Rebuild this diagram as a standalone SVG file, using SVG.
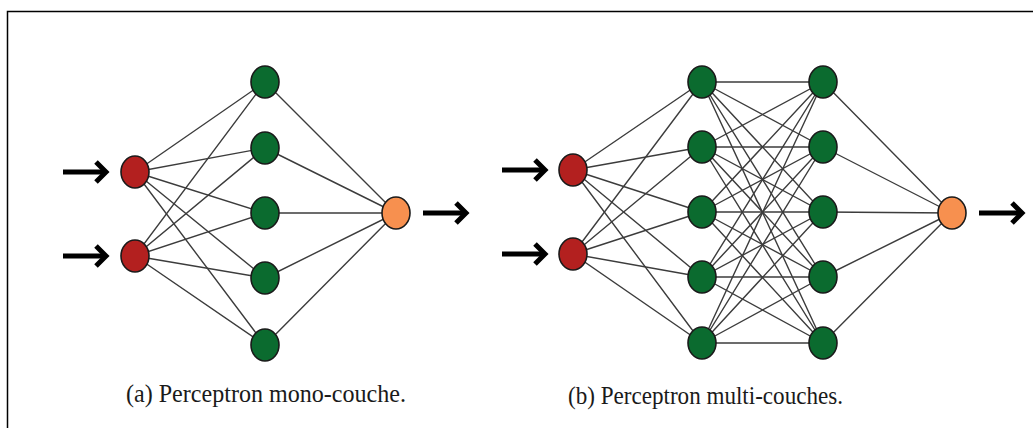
<svg xmlns="http://www.w3.org/2000/svg" xmlns:xlink="http://www.w3.org/1999/xlink" width="1033" height="428" viewBox="0 0 1033 428">
  <style>
    .edge { stroke: #3c3c3c; stroke-width: 1.4; fill: none; }
    .node { stroke: #1a1a1a; stroke-width: 1.6; }
    .in { fill: #b3201f; }
    .hid { fill: #0b6b2f; }
    .out { fill: #f7904f; }
    .arrow { stroke: #000; stroke-width: 5; fill: none; stroke-linecap: butt; stroke-linejoin: miter; }
    .cap { font-family: "Liberation Serif", "DejaVu Serif", serif; font-size: 25px; fill: #1a1a1a; }
  </style>
  <defs>
    <g id="arr">
      <path class="arrow" d="M0,0 H41"/>
      <path class="arrow" d="M33,-10 L43,0 L33,10"/>
    </g>
  </defs>

  <rect width="1033" height="428" fill="#fff"/>
  <!-- frame -->
  <path d="M7.5,428 V11.5 H1033" stroke="#000" stroke-width="1.5" fill="none"/>

  <!-- connectors -->
  <g id="connectors">
    <!-- (a) inputs to hidden, hidden to output -->
    <g id="edges-a">
      <path class="edge" d="M135,172 L265,82 M135,172 L265,148 M135,172 L265,213 M135,172 L265,278 M135,172 L265,345"/>
      <path class="edge" d="M135,256 L265,82 M135,256 L265,148 M135,256 L265,213 M135,256 L265,278 M135,256 L265,345"/>
      <path class="edge" d="M265,82 L396,213 M265,148 L396,213 M265,213 L396,213 M265,278 L396,213 M265,345 L396,213"/>
    </g>
    <!-- (b) inputs, two hidden layers, output -->
    <g id="edges-b">
      <path class="edge" d="M573,170 L702,82 M573,170 L702,147 M573,170 L702,212 M573,170 L702,277 M573,170 L702,343"/>
      <path class="edge" d="M573,254 L702,82 M573,254 L702,147 M573,254 L702,212 M573,254 L702,277 M573,254 L702,343"/>
      <path class="edge" d="M702,82 L823,82 M702,82 L823,147 M702,82 L823,212 M702,82 L823,277 M702,82 L823,343"/>
      <path class="edge" d="M702,147 L823,82 M702,147 L823,147 M702,147 L823,212 M702,147 L823,277 M702,147 L823,343"/>
      <path class="edge" d="M702,212 L823,82 M702,212 L823,147 M702,212 L823,212 M702,212 L823,277 M702,212 L823,343"/>
      <path class="edge" d="M702,277 L823,82 M702,277 L823,147 M702,277 L823,212 M702,277 L823,277 M702,277 L823,343"/>
      <path class="edge" d="M702,343 L823,82 M702,343 L823,147 M702,343 L823,212 M702,343 L823,277 M702,343 L823,343"/>
      <path class="edge" d="M823,82 L952,213 M823,147 L952,213 M823,212 L952,213 M823,277 L952,213 M823,343 L952,213"/>
    </g>
    <!-- input / output arrows -->
    <use xlink:href="#arr" href="#arr" x="63" y="172"/>
    <use xlink:href="#arr" href="#arr" x="63" y="256"/>
    <use xlink:href="#arr" href="#arr" x="423" y="213"/>
    <use xlink:href="#arr" href="#arr" x="502" y="170"/>
    <use xlink:href="#arr" href="#arr" x="502" y="254"/>
    <use xlink:href="#arr" href="#arr" x="979" y="213"/>
  </g>

  <!-- (a) single-layer perceptron -->
  <g id="a-in1"><ellipse class="node in" cx="135" cy="172" rx="14" ry="16"/></g>
  <g id="a-in2"><ellipse class="node in" cx="135" cy="256" rx="14" ry="16"/></g>
  <g id="a-h1"><ellipse class="node hid" cx="265" cy="82" rx="14" ry="16"/></g>
  <g id="a-h2"><ellipse class="node hid" cx="265" cy="148" rx="14" ry="16"/></g>
  <g id="a-h3"><ellipse class="node hid" cx="265" cy="213" rx="14" ry="16"/></g>
  <g id="a-h4"><ellipse class="node hid" cx="265" cy="278" rx="14" ry="16"/></g>
  <g id="a-h5"><ellipse class="node hid" cx="265" cy="345" rx="14" ry="16"/></g>
  <g id="a-out"><ellipse class="node out" cx="396" cy="213" rx="14" ry="16"/></g>

  <!-- (b) multi-layer perceptron -->
  <g id="b-in1"><ellipse class="node in" cx="573" cy="170" rx="14" ry="16"/></g>
  <g id="b-in2"><ellipse class="node in" cx="573" cy="254" rx="14" ry="16"/></g>
  <g id="b-h1-1"><ellipse class="node hid" cx="702" cy="82" rx="14" ry="16"/></g>
  <g id="b-h1-2"><ellipse class="node hid" cx="702" cy="147" rx="14" ry="16"/></g>
  <g id="b-h1-3"><ellipse class="node hid" cx="702" cy="212" rx="14" ry="16"/></g>
  <g id="b-h1-4"><ellipse class="node hid" cx="702" cy="277" rx="14" ry="16"/></g>
  <g id="b-h1-5"><ellipse class="node hid" cx="702" cy="343" rx="14" ry="16"/></g>
  <g id="b-h2-1"><ellipse class="node hid" cx="823" cy="82" rx="14" ry="16"/></g>
  <g id="b-h2-2"><ellipse class="node hid" cx="823" cy="147" rx="14" ry="16"/></g>
  <g id="b-h2-3"><ellipse class="node hid" cx="823" cy="212" rx="14" ry="16"/></g>
  <g id="b-h2-4"><ellipse class="node hid" cx="823" cy="277" rx="14" ry="16"/></g>
  <g id="b-h2-5"><ellipse class="node hid" cx="823" cy="343" rx="14" ry="16"/></g>
  <g id="b-out"><ellipse class="node out" cx="952" cy="213" rx="14" ry="16"/></g>

  <!-- captions -->
  <text class="cap" x="126" y="402" textLength="280" lengthAdjust="spacingAndGlyphs">(a) Perceptron mono-couche.</text>
  <text class="cap" x="568" y="404" textLength="275" lengthAdjust="spacingAndGlyphs">(b) Perceptron multi-couches.</text>
</svg>
